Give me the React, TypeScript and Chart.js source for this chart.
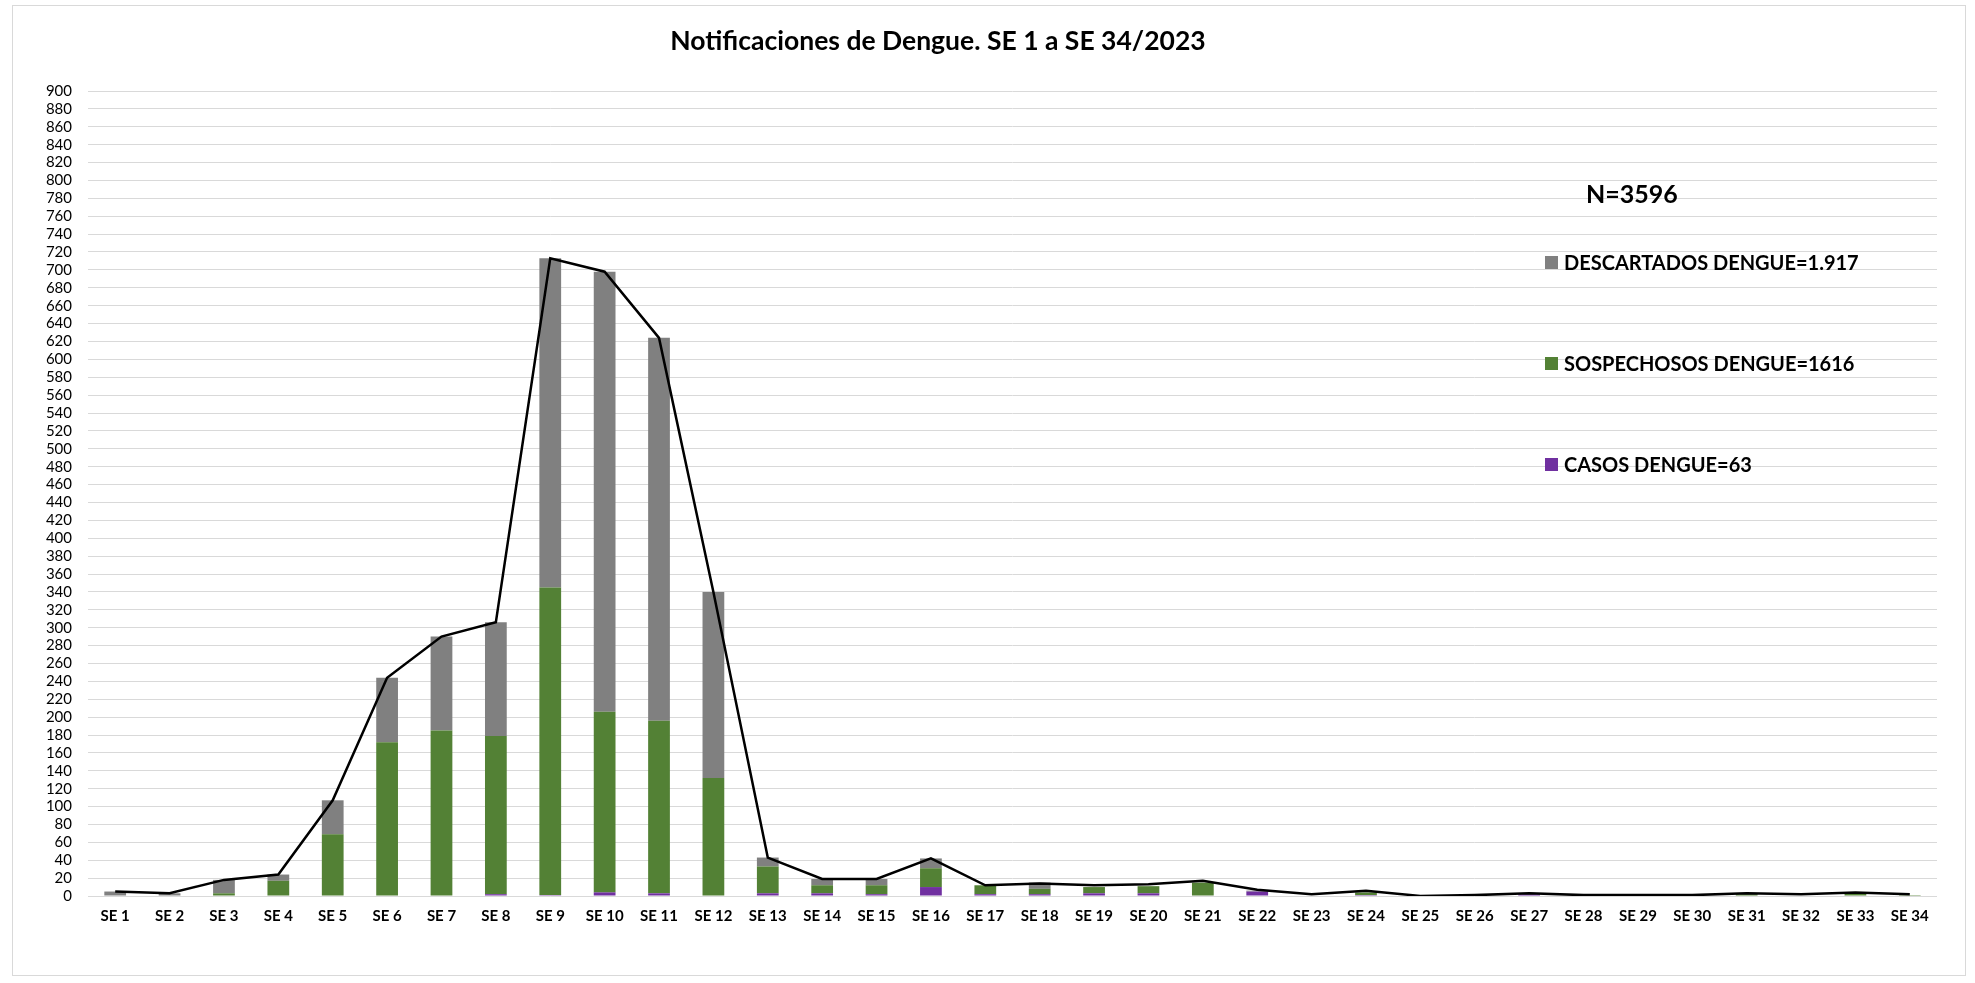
import React, { useEffect, useRef } from "react";
import { Chart, registerables } from "chart.js";

Chart.register(...registerables);

const categories = [
  "SE 1", "SE 2", "SE 3", "SE 4", "SE 5", "SE 6", "SE 7", "SE 8", "SE 9", "SE 10",
  "SE 11", "SE 12", "SE 13", "SE 14", "SE 15", "SE 16", "SE 17", "SE 18", "SE 19", "SE 20",
  "SE 21", "SE 22", "SE 23", "SE 24", "SE 25", "SE 26", "SE 27", "SE 28", "SE 29", "SE 30",
  "SE 31", "SE 32", "SE 33", "SE 34",
];

const casos = [
  0, 0, 0, 0, 0, 0, 0, 2, 1, 4,
  3, 0, 3, 3, 2, 10, 2, 2, 3, 3,
  0, 5, 0, 1, 0, 0, 2, 0, 0, 0,
  0, 0, 0, 0,
];

const sospechosos = [
  0, 0, 3, 17, 69, 172, 185, 177, 344, 202,
  193, 132, 30, 9, 10, 21, 10, 6, 7, 8,
  15, 0, 0, 3, 0, 0, 0, 0, 0, 0,
  2, 0, 3, 1,
];

const descartados = [
  5, 3, 15, 7, 38, 72, 105, 127, 368, 492,
  428, 208, 10, 7, 7, 11, 0, 7, 0, 0,
  0, 1, 0, 0, 0, 0, 0, 0, 0, 0,
  0, 0, 0, 0,
];

const totalNotificaciones = [
  5, 3, 18, 24, 107, 244, 290, 306, 713, 698,
  624, 340, 43, 19, 19, 42, 12, 14, 12, 13,
  17, 7, 2, 6, 0, 1, 3, 1, 1, 1,
  3, 2, 4, 2,
];

const yMin = 0;
const yMax = 900;
const yStep = 20;

const titleText = "Notificaciones de Dengue. SE 1 a SE 34/2023";
const totalText = "N=3596";
const legendItems = [
  { label: "DESCARTADOS DENGUE=1.917", color: "#808080" },
  { label: "SOSPECHOSOS DENGUE=1616", color: "#538135" },
  { label: "CASOS DENGUE=63", color: "#7030A0" },
];

const FONT = "Lato, 'Open Sans', 'Liberation Sans', sans-serif";

export default function App() {
  const canvasRef = useRef<HTMLCanvasElement | null>(null);

  useEffect(() => {
    const canvas = canvasRef.current;
    if (!canvas) return;
    Chart.defaults.font.family = FONT;
    const chart = new Chart(canvas, {
      type: "bar",
      data: {
        labels: categories,
        datasets: [
          {
            type: "line",
            label: "Total",
            data: totalNotificaciones,
            borderColor: "#000000",
            backgroundColor: "#000000",
            borderWidth: 2.5,
            pointRadius: 0,
            tension: 0,
            stack: "line",
            order: 0,
          },
          {
            type: "bar",
            label: "CASOS DENGUE",
            data: casos,
            backgroundColor: "#7030A0",
            stack: "bars",
            order: 1,
            barPercentage: 0.4,
            categoryPercentage: 1,
          },
          {
            type: "bar",
            label: "SOSPECHOSOS DENGUE",
            data: sospechosos,
            backgroundColor: "#538135",
            stack: "bars",
            order: 1,
            barPercentage: 0.4,
            categoryPercentage: 1,
          },
          {
            type: "bar",
            label: "DESCARTADOS DENGUE",
            data: descartados,
            backgroundColor: "#808080",
            stack: "bars",
            order: 1,
            barPercentage: 0.4,
            categoryPercentage: 1,
          },
        ],
      } as any,
      options: {
        responsive: false,
        animation: false,
        layout: { padding: { top: 91, right: 38, left: 0, bottom: 0 } },
        plugins: {
          legend: { display: false },
          title: { display: false },
          tooltip: { enabled: false },
        },
        scales: {
          x: {
            stacked: true,
            grid: { display: false, drawTicks: false },
            border: { display: false },
            ticks: {
              autoSkip: false,
              maxRotation: 0,
              padding: 11,
              color: "#000000",
              font: { family: FONT, size: 15, weight: "bold" },
            },
            afterFit: (scale: any) => {
              scale.height = 87;
            },
          },
          y: {
            stacked: true,
            min: yMin,
            max: yMax,
            grid: { color: "#d9d9d9", lineWidth: 1, drawTicks: false },
            border: { display: false },
            ticks: {
              stepSize: yStep,
              autoSkip: false,
              padding: 16,
              color: "#000000",
              font: { family: FONT, size: 15 },
            },
            afterFit: (scale: any) => {
              scale.width = 88;
            },
          },
        },
      } as any,
    });
    return () => chart.destroy();
  }, []);

  return (
    <div style={{ position: "absolute", left: 0, top: 0, width: 1975, height: 983, background: "#ffffff", overflow: "hidden" }}>
      <div
        style={{
          position: "absolute",
          left: 12,
          top: 5,
          width: 1954,
          height: 971,
          border: "1px solid #d9d9d9",
          boxSizing: "border-box",
        }}
      />
      <canvas ref={canvasRef} width={1975} height={983} style={{ position: "absolute", left: 0, top: 0 }} />
      <div
        style={{
          position: "absolute",
          left: 0,
          width: 1876,
          top: 23,
          textAlign: "center",
          fontFamily: FONT,
          fontWeight: 700,
          fontSize: 26.5,
          lineHeight: "34px",
          color: "#000",
        }}
      >
        {titleText}
      </div>
      <div
        style={{
          position: "absolute",
          left: 1586,
          top: 176,
          fontFamily: FONT,
          fontWeight: 700,
          fontSize: 25,
          lineHeight: "34px",
          color: "#000",
        }}
      >
        {totalText}
      </div>
      {legendItems.map((item, i) => (
        <div
          key={item.label}
          style={{
            position: "absolute",
            left: 1545,
            top: 250 + i * 101,
            height: 24,
            display: "flex",
            alignItems: "center",
            fontFamily: FONT,
            fontWeight: 700,
            fontSize: 20,
            color: "#000",
            whiteSpace: "nowrap",
          }}
        >
          <span style={{ display: "inline-block", width: 13, height: 13, background: item.color, marginRight: 6 }} />
          <span>{item.label}</span>
        </div>
      ))}
    </div>
  );
}
